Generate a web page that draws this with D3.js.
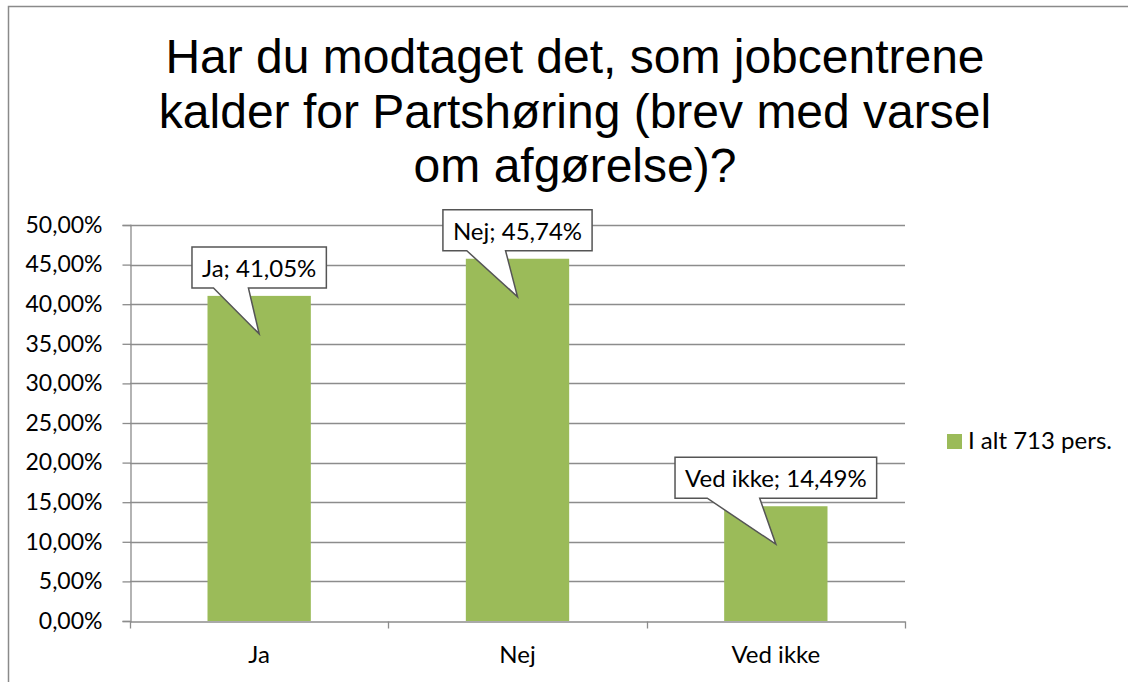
<!DOCTYPE html>
<html><head><meta charset="utf-8">
<script src="https://cdn.jsdelivr.net/npm/d3@7"></script>
<style>body{margin:0;background:#fff}svg{display:block}</style>
</head><body>
<svg id="c" width="1128" height="682"></svg>
<script>
const categories = ["Ja", "Nej", "Ved ikke"];
const values = [41.05, 45.74, 14.49];
const labels = ["Ja; 41,05%", "Nej; 45,74%", "Ved ikke; 14,49%"];
const yTicks = [0,5,10,15,20,25,30,35,40,45,50];
const seriesName = "I alt 713 pers.";
const titleLines = ["Har du modtaget det, som jobcentrene", "kalder for Partshøring (brev med varsel", "om afgørelse)?"];

const svg = d3.select("#c");
const bodyFont = "Lato, 'Open Sans', sans-serif";
const green = "#9bbb59", grid = "#8c8c8c";

// outer chart border
svg.append("rect").attr("x",8.5).attr("y",6.5).attr("width",1200).attr("height",800)
  .attr("fill","none").attr("stroke","#8a8a8a").attr("stroke-width",1.5);

// title
svg.append("g").selectAll("text").data(titleLines).join("text")
  .attr("x",575).attr("y",(d,i)=>73+i*54.5).attr("text-anchor","middle")
  .attr("font-family","'Liberation Sans', Arial, sans-serif").attr("font-size",48).attr("fill","#000")
  .text(d=>d);

const x0 = 130, x1 = 905, yTop = 225, yBot = 621;
const x = d3.scaleBand().domain(categories).range([x0,x1]).paddingInner(0.6).paddingOuter(0.3);
const xb = d3.scaleBand().domain(categories).range([x0,x1]);
const y = d3.scaleLinear().domain([0,50]).range([yBot,yTop]);

// gridlines
svg.append("g").selectAll("line").data(yTicks.filter(t=>t>0)).join("line")
  .attr("x1",x0).attr("x2",x1).attr("y1",d=>Math.round(y(d))+0.5).attr("y2",d=>Math.round(y(d))+0.5)
  .attr("stroke",grid).attr("stroke-width",1.3);

// bars
svg.append("g").selectAll("rect").data(values).join("rect")
  .attr("x",(d,i)=>x(categories[i])).attr("width",x.bandwidth())
  .attr("y",d=>y(d)).attr("height",d=>yBot-y(d)).attr("fill",green);

// y axis
const yAxis = d3.axisLeft(y).tickValues(yTicks).tickSize(8).tickPadding(20)
  .tickFormat(d=>d3.format(".2f")(d).replace(".",",")+"%");
const ga = svg.append("g").attr("transform",`translate(${x0+0.5},0)`).call(yAxis);
ga.select(".domain").attr("stroke",grid).attr("stroke-width",1.3);
ga.selectAll(".tick line").attr("stroke",grid).attr("stroke-width",1.3);
ga.selectAll(".tick text").attr("font-family",bodyFont).attr("font-size",23).attr("fill","#000");

// x axis
const xAxis = d3.axisBottom(xb).tickSize(0).tickPadding(24);
const gx = svg.append("g").attr("transform",`translate(0,${yBot+0.5})`).call(xAxis);
gx.select(".domain").attr("stroke",grid).attr("stroke-width",1.3);
gx.selectAll(".tick text").attr("font-family",bodyFont).attr("font-size",24).attr("fill","#000");
// category boundary ticks
const bounds = categories.map(c=>xb(c)).concat([x1]);
gx.append("g").selectAll("line").data(bounds).join("line")
  .attr("x1",d=>Math.round(d)+0.5).attr("x2",d=>Math.round(d)+0.5).attr("y1",0).attr("y2",7)
  .attr("stroke",grid).attr("stroke-width",1.3);

// callouts
const cg = svg.append("g");
values.forEach((v,i)=>{
  const cx = x(categories[i]) + x.bandwidth()/2;
  const tipY = y(v) + 38;
  const bottom = tipY - 46;
  const h = 41;
  const g = cg.append("g");
  const t = g.append("text").attr("x",cx).attr("y",bottom-11).attr("text-anchor","middle")
    .attr("font-family",bodyFont).attr("font-size",24).attr("fill","#000").text(labels[i]);
  const w = t.node().getComputedTextLength() + 20;
  const l = cx - w/2, r = cx + w/2, top = bottom - h;
  const bl = l + 0.16*w, br = l + 0.42*w;
  const path = `M${l},${top}L${r},${top}L${r},${bottom}L${br},${bottom}L${cx},${tipY}L${bl},${bottom}L${l},${bottom}Z`;
  g.insert("path","text").attr("d",path).attr("fill","#fff").attr("stroke","#555").attr("stroke-width",1.5)
    .attr("stroke-linejoin","miter");
});

// legend
const lg = svg.append("g").attr("transform","translate(947,434)");
lg.append("rect").attr("width",15).attr("height",15).attr("fill",green);
lg.append("text").attr("x",21).attr("y",14.5).attr("font-family",bodyFont).attr("font-size",24)
  .attr("fill","#000").text(seriesName);
</script>
</body></html>
